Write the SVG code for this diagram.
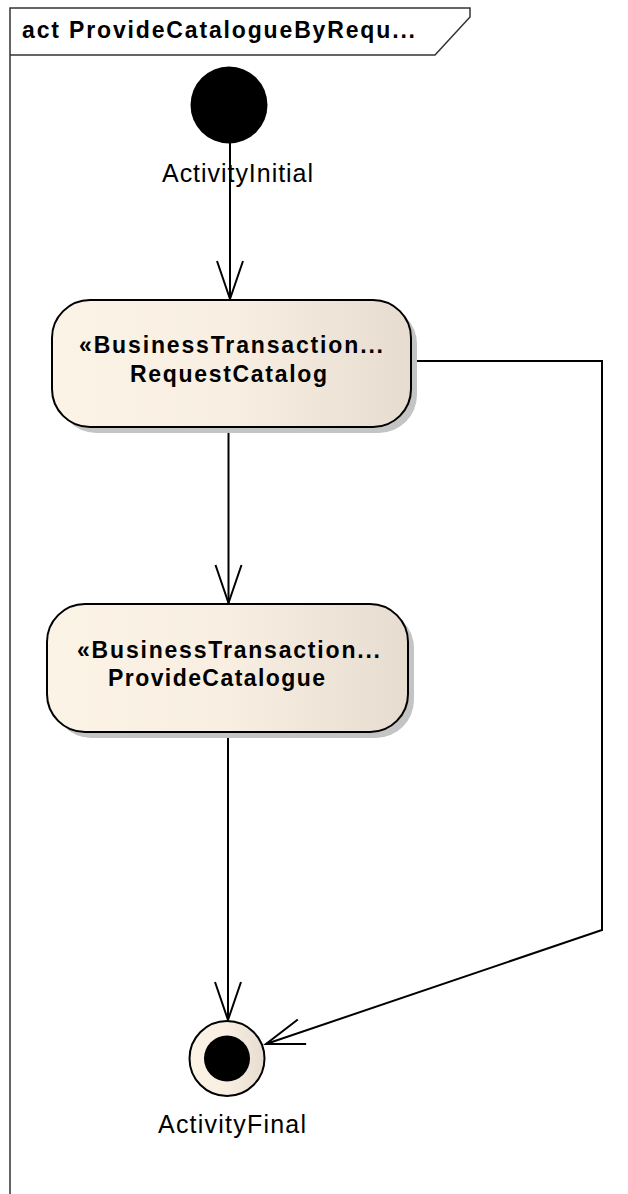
<svg xmlns="http://www.w3.org/2000/svg" width="628" height="1194" viewBox="0 0 628 1194">
  <style>
    .frame { fill: none; stroke: #333333; stroke-width: 1.5; }
    .title { font-family: "Liberation Sans", Arial, sans-serif; font-size: 23px; font-weight: bold; fill: #000000; }
    .lbl { font-family: "Liberation Sans", Arial, sans-serif; font-size: 25px; fill: #000000; }
    .nodetxt { font-family: "Liberation Sans", Arial, sans-serif; font-size: 23px; font-weight: bold; fill: #000000; text-anchor: middle; }
    .act { fill: url(#grad); stroke: #000000; stroke-width: 2; }
    .shadow { fill: #c4c4c4; }
    .edge { fill: none; stroke: #000000; stroke-width: 2; marker-end: url(#arrow); }
  </style>
  <defs>
    <linearGradient id="grad" x1="0" y1="0" x2="1" y2="0">
      <stop offset="0" stop-color="#fbf3e6"/>
      <stop offset="0.5" stop-color="#f8efe2"/>
      <stop offset="1" stop-color="#e6ddd0"/>
    </linearGradient>
    <marker id="arrow" markerUnits="userSpaceOnUse" orient="auto" refX="0" refY="0" markerWidth="50" markerHeight="40" viewBox="-45 -20 50 40" overflow="visible">
      <path d="M -38 -13 L 0 0 L -38 13" fill="none" stroke="#000000" stroke-width="2"/>
    </marker>
  </defs>

  <g id="frame">
    <path class="frame" d="M 10 1194 L 10 8 L 470 8 L 470 17 L 435 55 L 10 55"/>
    <text class="title" x="22" y="38" textLength="393" lengthAdjust="spacing">act ProvideCatalogueByRequ...</text>
  </g>

  <g id="connectors">
    <line class="edge" x1="230" y1="143" x2="230" y2="299"/>
    <line class="edge" x1="228.5" y1="427" x2="228.5" y2="603"/>
    <line class="edge" x1="228" y1="732" x2="228" y2="1020"/>
    <polyline class="edge" points="411,361 602,361 602,930 266,1044"/>
  </g>

  <g id="ActivityInitial">
    <circle cx="229" cy="105" r="38.5" fill="#000000"/>
    <text class="lbl" x="162" y="182" textLength="151" lengthAdjust="spacing">ActivityInitial</text>
  </g>

  <g id="RequestCatalog">
    <rect class="shadow" x="58" y="306" width="359" height="127" rx="38" ry="38"/>
    <rect class="act" x="52" y="300" width="359" height="127" rx="38" ry="38"/>
    <text class="nodetxt" x="231" y="353" textLength="304" lengthAdjust="spacing">«BusinessTransaction...</text>
    <text class="nodetxt" x="228.5" y="382" textLength="197" lengthAdjust="spacing">RequestCatalog</text>
  </g>

  <g id="ProvideCatalogue">
    <rect class="shadow" x="53" y="610" width="361" height="128" rx="38" ry="38"/>
    <rect class="act" x="47" y="604" width="361" height="128" rx="38" ry="38"/>
    <text class="nodetxt" x="228.5" y="658" textLength="303" lengthAdjust="spacing">«BusinessTransaction...</text>
    <text class="nodetxt" x="216.5" y="686" textLength="217" lengthAdjust="spacing">ProvideCatalogue</text>
  </g>

  <g id="ActivityFinal">
    <circle cx="227" cy="1058.5" r="37.5" fill="url(#grad)" stroke="#000000" stroke-width="2"/>
    <circle cx="227" cy="1058.5" r="23" fill="#000000"/>
    <text class="lbl" x="158" y="1133" textLength="148" lengthAdjust="spacing">ActivityFinal</text>
  </g>
</svg>
